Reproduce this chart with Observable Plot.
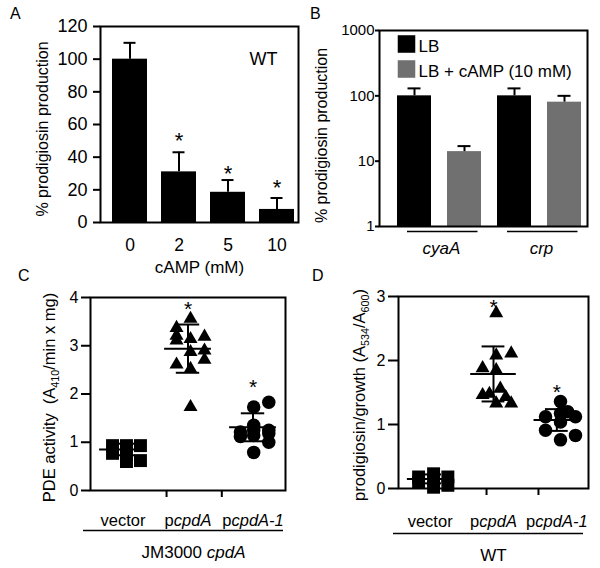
<!DOCTYPE html>
<html><head><meta charset="utf-8">
<script src="https://cdn.jsdelivr.net/npm/d3@7"></script>
<script src="https://cdn.jsdelivr.net/npm/@observablehq/plot@0.6"></script>
<style>
body{margin:0;background:#fff;}
#fig{position:relative;width:600px;height:568px;font-family:"Liberation Sans",Arial,sans-serif;background:#fff;overflow:hidden;}
.panel{position:absolute;}
.letter{position:absolute;font-size:16px;line-height:16px;color:#000;}
</style></head><body>
<div id="fig">
  <div class="panel" id="pA" style="left:0;top:0"></div>
  <div class="panel" id="pB" style="left:300px;top:0"></div>
  <div class="panel" id="pC" style="left:0;top:280px"></div>
  <div class="panel" id="pD" style="left:300px;top:280px"></div>
  <div class="letter" style="left:10px;top:6px">A</div>
  <div class="letter" style="left:310px;top:6px">B</div>
  <div class="letter" style="left:18px;top:268px">C</div>
  <div class="letter" style="left:312px;top:268px">D</div>
</div>
<script>
// ---------- Panel A data ----------
const concA = ["0", "2", "5", "10"];
const prodA = [100, 31, 18.5, 8];
const errA = [110, 43, 26, 15];
const starA = [null, 53, 33, 24];
const ticksA = [0, 20, 40, 60, 80, 100, 120];
const yLabelA = "% prodigiosin production";
const xLabelA = "cAMP (mM)";
const strainA = "WT";

// ---------- Panel B data ----------
const strainsB = ["cyaA", "crp"];
const condB = ["LB", "LB + cAMP (10 mM)"];
const prodB_LB = [100, 100];
const prodB_cAMP = [14, 80];
const errB_LB = [130, 130];
const errB_cAMP = [17, 100];
const ticksB = [1, 10, 100, 1000];
const colorsB = ["#000000", "#707070"];
const yLabelB = "% prodigiosin production";

// ---------- Panels C & D shared ----------
const groupsCD = ["vector", "p<i>cpdA</i>", "p<i>cpdA-1</i>"];
const symbolsCD = ["square", "triangle", "circle"];

// ---------- Panel C data ----------
const C_vector = [0.93, 0.77, 0.93, 0.74, 0.60, 0.93, 0.62];
const C_vector_col = [-0.75, -0.75, 0.25, 0.25, 0.25, 1.25, 1.25];
const C_pcpdA = [3.56, 3.37, 3.21, 3.11, 3.14, 3.19, 2.87, 2.90, 2.71, 2.61, 2.52, 1.73];
const C_pcpdA_col = [0.18, -0.82, -0.82, -0.82, 0.18, 1.18, 0.18, 1.18, 1.18, -0.82, 0.18, 0.18];
const C_pcpdA1 = [1.83, 1.73, 1.21, 1.35, 1.14, 1.18, 1.00, 0.79, 1.12, 1.25, 1.25];
const C_pcpdA1_col = [1.13, 0.05, -0.9, 0.05, 0.05, 1.13, 1.13, 0.05, -0.9, 1.13, 0.05];
const meanC = [0.85, 2.94, 1.31];
const sdC = [0.12, 0.50, 0.29];
const starC = [null, 3.83, 2.22];
const ticksCy = [0, 1, 2, 3, 4];
const ticksCx = [1.17, 2.02];
const yLabelC = "PDE activity\u00a0 (A<sub>410</sub>/min x mg)";
const groupLabelC = "JM3000 <i>cpdA</i>";

// ---------- Panel D data ----------
const D_vector = [0.18, 0.10, 0.23, 0.13, 0.02, 0.18, 0.05];
const D_vector_col = [-0.85, -0.85, 0.25, 0.25, 0.25, 1.3, 1.3];
const D_pcpdA = [2.74, 2.08, 2.11, 1.88, 1.85, 1.46, 1.48, 1.56, 1.43, 1.33, 1.33];
const D_pcpdA_col = [0.2, 0.2, 1.3, -0.8, 0.2, -0.8, -0.3, 0.5, 0.9, 0.2, 1.3];
const D_pcpdA1 = [1.36, 1.12, 1.17, 1.12, 0.91, 1.04, 0.83, 0.76, 1.20];
const D_pcpdA1_col = [0.27, -0.83, 0.27, 1.37, -0.83, 0.27, 1.37, 0.27, 0.8];
const meanD = [0.15, 1.79, 1.07];
const sdD = [0.07, 0.43, 0.17];
const starD = [null, 2.90, 1.57];
const ticksDy = [0, 1, 2, 3];
const ticksDx = [1.39, 2.21];
const yLabelD = "prodigiosin/growth (A<sub>534</sub>/A<sub>600</sub>)";
const groupLabelD = "WT";

// ---------- helpers ----------
const FONT = "'Liberation Sans', Arial, sans-serif";
const baseStyle = {fontFamily: FONT, fontSize: "16px", color: "black", background: "transparent", overflow: "visible"};

function richify(svg) {
  d3.select(svg).selectAll("text").each(function () {
    const t = this.textContent;
    if (!/<(i|sub)>/.test(t)) return;
    const sel = d3.select(this);
    sel.text(null);
    const parts = t.split(/(<i>.*?<\/i>|<sub>.*?<\/sub>)/).filter(s => s);
    let prevSub = false;
    for (const p of parts) {
      let m, ts;
      const isSub = /^<sub>/.test(p);
      if ((m = p.match(/^<i>(.*)<\/i>$/))) ts = sel.append("tspan").attr("font-style", "italic").text(m[1]);
      else if ((m = p.match(/^<sub>(.*)<\/sub>$/))) ts = sel.append("tspan").attr("font-size", "65%").text(m[1]);
      else ts = sel.append("tspan").text(p);
      if (isSub && !prevSub) ts.attr("dy", 4);
      if (!isSub && prevSub) ts.attr("dy", -4);
      prevSub = isSub;
    }
  });
  return svg;
}

// ---------- Panel A ----------
const dataA = concA.map((c, i) => ({c, v: prodA[i], e: errA[i], s: starA[i]}));
const plotA = Plot.plot({
  width: 300, height: 280,
  marginLeft: 100, marginRight: 2, marginTop: 26, marginBottom: 58,
  style: baseStyle,
  x: {domain: concA, range: [106, 299], paddingInner: 0.29, paddingOuter: 0.1, label: null},
  y: {domain: [0, 120], label: null},
  marks: [
    Plot.barY(dataA, {x: "c", y: "v", fill: "black"}),
    Plot.ruleX(dataA, {x: "c", y1: "v", y2: "e", strokeWidth: 2}),
    Plot.tickY(dataA, {x: "c", y: "e", strokeWidth: 2, insetLeft: 11.5, insetRight: 11.5}),
    Plot.text(dataA.filter(d => d.s != null), {x: "c", y: "s", text: () => "*", fontSize: 22, dy: 5}),
    Plot.frame({strokeWidth: 2}),
    Plot.axisY({ticks: ticksA, tickSize: 7, tickPadding: 6, fontSize: 18, strokeWidth: 2, label: null}),
    Plot.axisX({tickSize: 0, tickPadding: 16, fontSize: 17.5, label: null}),
    Plot.text([yLabelA], {text: d => d, frameAnchor: "left", textAnchor: "middle", lineAnchor: "middle", rotate: -90, dx: -57.6, dy: 4.5, fontSize: 16}),
    Plot.text([xLabelA], {text: d => d, frameAnchor: "bottom", lineAnchor: "middle", dy: 45, fontSize: 17}),
    Plot.text([strainA], {text: d => d, frameAnchor: "top-right", textAnchor: "end", lineAnchor: "top", dx: -21, dy: 26, fontSize: 18})
  ]
});
document.getElementById("pA").append(richify(plotA));

// ---------- Panel B ----------
const dataB = strainsB.flatMap((s, i) => [
  {k: s + "|" + condB[0], s, cond: condB[0], v: prodB_LB[i], e: errB_LB[i]},
  {k: s + "|" + condB[1], s, cond: condB[1], v: prodB_cAMP[i], e: errB_cAMP[i]}
]);
const keysB = dataB.map(d => d.k);
const plotB = Plot.plot({
  width: 300, height: 280,
  marginLeft: 79, marginRight: 13, marginTop: 30, marginBottom: 54,
  style: baseStyle,
  x: {domain: keysB, range: [91, 287.5], paddingInner: 0.32, paddingOuter: 0.1, axis: null},
  y: {type: "log", domain: [1, 1000], label: null},
  color: {domain: condB, range: colorsB},
  marks: [
    Plot.barY(dataB, {x: "k", y1: () => 1, y2: "v", fill: "cond"}),
    Plot.ruleX(dataB, {x: "k", y1: "v", y2: "e", strokeWidth: 2}),
    Plot.tickY(dataB, {x: "k", y: "e", strokeWidth: 2, insetLeft: 10.5, insetRight: 10.5}),
    Plot.frame({strokeWidth: 2}),
    Plot.axisY({ticks: ticksB, tickFormat: d => String(d), tickSize: 4, tickPadding: 1, fontSize: 15, strokeWidth: 2, label: null}),
    Plot.ruleY(strainsB, {x1: d => d + "|" + condB[0], x2: d => d + "|" + condB[1], y: () => 1, dy: 5, strokeWidth: 1.5, insetLeft: 10, insetRight: 3.5}),
    Plot.text(strainsB, {x: d => d + "|" + condB[0], y: () => 1, dx: 27, dy: 21.6, lineAnchor: "middle", text: d => `<i>${d}</i>`, fontSize: 17}),
    ...condB.map((c, i) => Plot.dot([c], {frameAnchor: "top-left", dx: 27, dy: 13.5 + 25 * i, symbol: "square", r: 9.9, fill: d => d, stroke: "none"})),
    ...condB.map((c, i) => Plot.text([c], {text: d => d, frameAnchor: "top-left", dx: 39, dy: 16 + 25 * i, textAnchor: "start", lineAnchor: "middle", fontSize: 17})),
    Plot.text([yLabelB], {text: d => d, frameAnchor: "left", textAnchor: "middle", lineAnchor: "middle", rotate: -90, dx: -57.6, dy: 7, fontSize: 16})
  ]
});
document.getElementById("pB").append(richify(plotB));

// ---------- Panels C & D builder ----------
const JIT = 0.215;
const RADII = [7.3, 5.2, 6.75];
function scatterPanel(opts) {
  const {series, cols, mean, sd, star, ticksY, ticksX, yDomain, yLabel, groupLabel, m, yl, xl, ul, gl} = opts;
  const pts = series.flatMap((vals, gi) => vals.map((v, j) => ({gi, x: gi + 0.5 + cols[gi][j] * JIT, y: v})));
  const stats = mean.map((mm, i) => ({i, m: mm, lo: mm - sd[i], hi: mm + sd[i]}));
  const stars = star.map((s, i) => ({i, s})).filter(d => d.s != null);
  return Plot.plot({
    width: 300, height: 288,
    marginLeft: m[0], marginRight: m[1], marginTop: m[2], marginBottom: m[3],
    style: baseStyle,
    x: {domain: [0, 3], label: null},
    y: {domain: yDomain, label: null},
    marks: [
      ...symbolsCD.map((sym, gi) => Plot.dot(pts.filter(p => p.gi === gi), {x: "x", y: "y", symbol: sym, r: RADII[gi], fill: "black", stroke: "none"})),
      Plot.ruleY(stats, {y: "m", x1: d => d.i + 0.5 - 0.36, x2: d => d.i + 0.5 + 0.36, strokeWidth: 2}),
      Plot.ruleY(stats, {y: "hi", x1: d => d.i + 0.5 - 0.18, x2: d => d.i + 0.5 + 0.18, strokeWidth: 2}),
      Plot.ruleY(stats, {y: "lo", x1: d => d.i + 0.5 - 0.18, x2: d => d.i + 0.5 + 0.18, strokeWidth: 2}),
      Plot.ruleX(stats, {x: d => d.i + 0.5, y1: "lo", y2: "hi", strokeWidth: 2}),
      Plot.text(stars, {x: d => d.i + 0.5, y: "s", text: () => "*", fontSize: 21, dy: 4}),
      Plot.frame({strokeWidth: 2}),
      Plot.axisY({ticks: ticksY, tickFormat: d => String(d), tickSize: yl[0], tickPadding: yl[1], fontSize: 16, strokeWidth: 2, label: null}),
      Plot.axisX({ticks: ticksX, tickSize: 7, tickFormat: () => "", strokeWidth: 2, label: null}),
      Plot.text(groupsCD, {x: (d, i) => i + 0.5, frameAnchor: "bottom", lineAnchor: "middle", dy: xl, text: d => d, fontSize: 16.5}),
      Plot.ruleY([yDomain[0]], {dy: ul[0], insetLeft: ul[1], insetRight: ul[2], strokeWidth: 1.5}),
      Plot.text([groupLabel], {text: d => d, frameAnchor: "bottom", lineAnchor: "middle", dx: gl[0], dy: gl[1], fontSize: 17}),
      Plot.text([yLabel], {text: d => d, frameAnchor: "left", textAnchor: "middle", lineAnchor: "middle", rotate: -90, dx: opts.yd[0], dy: opts.yd[1], fontSize: 16.5})
    ]
  });
}

const plotC = scatterPanel({
  series: [C_vector, C_pcpdA, C_pcpdA1], cols: [C_vector_col, C_pcpdA_col, C_pcpdA1_col],
  mean: meanC, sd: sdC, star: starC, ticksY: ticksCy, ticksX: ticksCx, yDomain: [0, 4],
  yLabel: yLabelC, groupLabel: groupLabelC,
  m: [90, 15, 17, 78], yl: [9, 3], xl: 30, ul: [40, -7, 2], gl: [5.5, 61.6], yd: [-40.4, 3.5]
});
document.getElementById("pC").append(richify(plotC));

const plotD = scatterPanel({
  series: [D_vector, D_pcpdA, D_pcpdA1], cols: [D_vector_col, D_pcpdA_col, D_pcpdA1_col],
  mean: meanD, sd: sdD, star: starD, ticksY: ticksDy, ticksX: ticksDx, yDomain: [0, 3],
  yLabel: yLabelD, groupLabel: groupLabelD,
  m: [98, 12, 16, 80], yl: [10, 3], xl: 33, ul: [45, -5, 5], gl: [0, 66.6], yd: [-38.4, 2.5]
});
document.getElementById("pD").append(richify(plotD));
</script>
</body></html>
